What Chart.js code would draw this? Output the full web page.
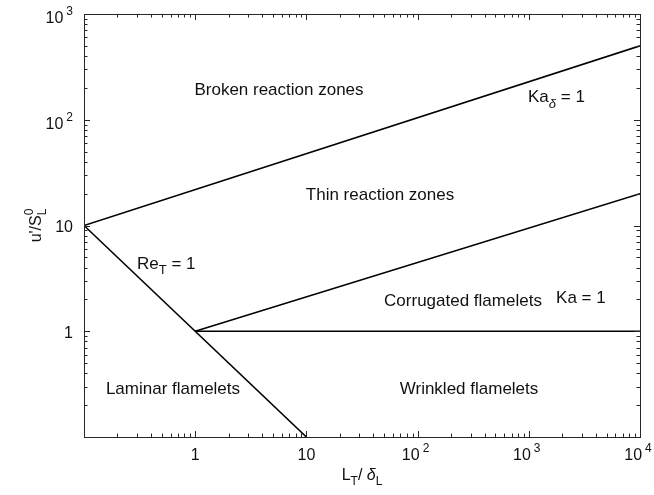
<!DOCTYPE html>
<html>
<head>
<meta charset="utf-8">
<script src="https://cdn.jsdelivr.net/npm/chart.js@4"></script>
<style>
  html, body { margin: 0; padding: 0; background: #fff; }
  canvas { display: block; }
</style>
</head>
<body>
<canvas id="regime-chart" width="654" height="495"></canvas>
<script>
// boundary lines of the combustion regime diagram
const reX = [0.1, 10];
const reY = [10, 0.1];
const kaDeltaX = [0.1, 1e4];
const kaDeltaY = [10, 500];
const kaX = [1, 1e4];
const kaY = [1, 20];
const flatX = [1, 1e4];
const flatY = [1, 1];

const xTicks = [1, 10, 100, 1000, 10000];
const xTickLabels = [['1'], ['10'], ['10', '2'], ['10', '3'], ['10', '4']];
const yTicks = [1, 10, 100, 1000];
const yTickLabels = [['1'], ['10'], ['10', '2'], ['10', '3']];

const FONT = '"Liberation Sans", Arial, sans-serif';
const INK = '#111';

const toPoints = (xs, ys) => xs.map((x, i) => ({ x: x, y: ys[i] }));

const lineSet = (xs, ys) => ({
  data: toPoints(xs, ys),
  showLine: true,
  pointRadius: 0,
  borderColor: '#000',
  borderWidth: 1.6,
  fill: false,
});

// text placed at data coordinates
const notes = [
  { parts: [{ t: 'Broken reaction zones' }], x: 5.67, y: 189, align: 'center' },
  { parts: [{ t: 'Ka' }, { t: 'δ', sub: true, italic: true }, { t: ' = 1' }], x: 984, y: 162, align: 'left' },
  { parts: [{ t: 'Thin reaction zones' }], x: 45.9, y: 19.4, align: 'center' },
  { parts: [{ t: 'Re' }, { t: 'T', sub: true }, { t: ' = 1' }], x: 0.3, y: 4.33, align: 'left' },
  { parts: [{ t: 'Ka = 1' }], x: 1758, y: 2.06, align: 'left' },
  { parts: [{ t: 'Corrugated flamelets' }], x: 256, y: 1.93, align: 'center' },
  { parts: [{ t: 'Laminar flamelets' }], x: 0.631, y: 0.284, align: 'center' },
  { parts: [{ t: 'Wrinkled flamelets' }], x: 290, y: 0.284, align: 'center' },
];

const font = (size, italic) => (italic ? 'italic ' : '') + size + 'px ' + FONT;

// draw text with sub/superscripts
const drawRich = (ctx, parts, x, y, align, size, supGap) => {
  const small = Math.round(size * 0.75);
  const gap = supGap || 0;
  const widths = parts.map((p) => {
    if (p.subsup) {
      ctx.font = font(small);
      return Math.max(ctx.measureText(p.subsup[0]).width, ctx.measureText(p.subsup[1]).width);
    }
    ctx.font = font(p.sub || p.sup ? small : size, p.italic);
    return ctx.measureText(p.t).width + (p.sup ? gap : 0);
  });
  const total = widths.reduce((a, b) => a + b, 0);
  let cx = x;
  if (align === 'center') cx = x - total / 2;
  if (align === 'right') cx = x - total;
  ctx.textAlign = 'left';
  ctx.textBaseline = 'middle';
  parts.forEach((p, i) => {
    if (p.subsup) {
      ctx.font = font(small);
      ctx.fillText(p.subsup[0], cx, y + size * 0.38);
      ctx.fillText(p.subsup[1], cx, y - size * 0.45);
    } else {
      ctx.font = font(p.sub || p.sup ? small : size, p.italic);
      let dy = 0;
      if (p.sub) dy = size * 0.38;
      if (p.sup) dy = -size * 0.45;
      ctx.fillText(p.t, cx + (p.sup ? gap : 0), y + dy);
    }
    cx += widths[i];
  });
};

const minorValues = (min, max) => {
  const out = [];
  for (let k = Math.floor(Math.log10(min)); k <= Math.ceil(Math.log10(max)); k++) {
    for (let m = 2; m <= 9; m++) {
      const v = m * Math.pow(10, k);
      if (v > min && v < max) out.push(v);
    }
  }
  return out;
};

const majorValues = (min, max) => {
  const out = [];
  for (let k = Math.ceil(Math.log10(min)); k <= Math.floor(Math.log10(max)); k++) {
    out.push(Math.pow(10, k));
  }
  return out;
};

const axesPlugin = {
  id: 'matlabAxes',
  afterDraw(chart) {
    const { ctx, chartArea: a, scales } = chart;
    const xs = scales.x;
    const ys = scales.y;
    ctx.save();

    // box
    ctx.strokeStyle = '#262626';
    ctx.lineWidth = 1;
    ctx.strokeRect(Math.round(a.left) + 0.5, Math.round(a.top) + 0.5,
      Math.round(a.right - a.left), Math.round(a.bottom - a.top));

    // inward ticks on all four sides
    ctx.beginPath();
    const tickX = (v, len) => {
      const px = Math.round(xs.getPixelForValue(v)) + 0.5;
      ctx.moveTo(px, a.bottom); ctx.lineTo(px, a.bottom - len);
      ctx.moveTo(px, a.top); ctx.lineTo(px, a.top + len);
    };
    const tickY = (v, len) => {
      const py = Math.round(ys.getPixelForValue(v)) + 0.5;
      ctx.moveTo(a.left, py); ctx.lineTo(a.left + len, py);
      ctx.moveTo(a.right, py); ctx.lineTo(a.right - len, py);
    };
    minorValues(xs.min, xs.max).forEach((v) => tickX(v, 3.5));
    majorValues(xs.min, xs.max).forEach((v) => tickX(v, 6));
    minorValues(ys.min, ys.max).forEach((v) => tickY(v, 3.5));
    majorValues(ys.min, ys.max).forEach((v) => tickY(v, 6));
    ctx.stroke();

    // tick labels
    ctx.fillStyle = INK;
    xTicks.forEach((v, i) => {
      const lab = xTickLabels[i];
      const parts = lab.length > 1 ? [{ t: lab[0] }, { t: lab[1], sup: true }] : [{ t: lab[0] }];
      drawRich(ctx, parts, xs.getPixelForValue(v) - (lab.length > 1 ? 2 : 0), a.bottom + 19, 'center', 16, 3);
    });
    yTicks.forEach((v, i) => {
      const lab = yTickLabels[i];
      const parts = lab.length > 1 ? [{ t: lab[0] }, { t: lab[1], sup: true }] : [{ t: lab[0] }];
      const off = lab.length > 1 ? 5 : 2;
      drawRich(ctx, parts, a.left - 11, ys.getPixelForValue(v) + off, 'right', 16, 3);
    });

    // axis titles
    drawRich(ctx, [{ t: 'L' }, { t: 'T', sub: true }, { t: '/ ' }, { t: 'δ', italic: true }, { t: 'L', sub: true }],
      (a.left + a.right) / 2, a.bottom + 39, 'center', 16);
    ctx.save();
    ctx.translate(a.left - 47, (a.top + a.bottom) / 2);
    ctx.rotate(-Math.PI / 2);
    drawRich(ctx, [{ t: "u'/S" }, { subsup: ['L', '0'] }], 0, 0, 'center', 16);
    ctx.restore();

    // region labels
    notes.forEach((n) => {
      drawRich(ctx, n.parts, xs.getPixelForValue(n.x), ys.getPixelForValue(n.y), n.align, 17);
    });
    ctx.restore();
  },
};

new Chart(document.getElementById('regime-chart'), {
  type: 'scatter',
  data: {
    datasets: [
      lineSet(reX, reY),
      lineSet(kaDeltaX, kaDeltaY),
      lineSet(kaX, kaY),
      lineSet(flatX, flatY),
    ],
  },
  options: {
    responsive: false,
    animation: false,
    layout: { padding: { left: 84, top: 14, right: 14, bottom: 58 } },
    scales: {
      x: { type: 'logarithmic', min: 0.1, max: 1e4, display: false },
      y: { type: 'logarithmic', min: 0.1, max: 1000, display: false },
    },
    plugins: {
      legend: { display: false },
      tooltip: { enabled: false },
    },
  },
  plugins: [axesPlugin],
});
</script>
</body>
</html>
